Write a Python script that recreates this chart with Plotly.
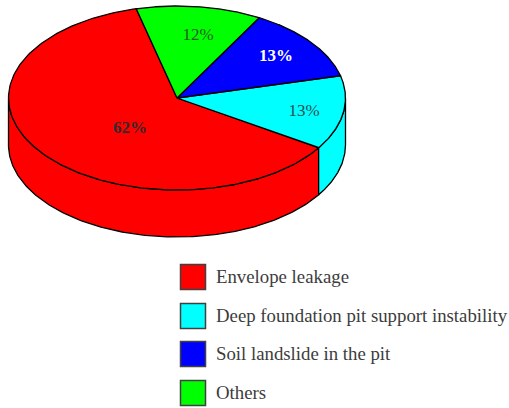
import numpy as np
import plotly.graph_objects as go

# Datos
categories = ["Envelope leakage", "Deep foundation pit support instability", "Soil landslide in the pit", "Others"]
shares = [62, 13, 13, 12]
colors = ["#ff0000", "#00ffff", "#0000ff", "#00ff00"]

# Geometria de la elipse (pixeles de la pagina)
W, H = 509, 408
CX, CY, RX, RY, DEPTH = 177, 98, 168.5, 92, 47
START_ANGLE = 104
INK = "#000000"
TEXT = "#3c3c3c"

# Etiquetas de porcentaje: posicion, color, negrita
label_pos = [(130, 129), (304, 112), (276, 57), (198, 36)]
label_col = ["#332b2b", "#264f4f", "#ffffff", "#265a26"]
label_bold = [True, False, True, False]

# Leyenda
legend_x, legend_text_x = 193, 216
legend_y = [277, 316, 354, 393]


def arc(a0, a1):
    t = np.radians(np.linspace(a0, a1, 200))
    return CX + RX * np.cos(t), CY - RY * np.sin(t)


fig = go.Figure()


def add_shape_trace(x, y, color):
    fig.add_trace(go.Scatter(x=x, y=y, mode="lines", fill="toself", fillcolor=color,
                             line=dict(color=INK, width=1.3), hoverinfo="skip", showlegend=False))


# Angulos de cada porcion a partir de los porcentajes
angles = START_ANGLE + np.cumsum([0] + shares) / sum(shares) * 360

# Pared lateral (solo la mitad frontal, 180-360 grados)
for i, c in enumerate(colors):
    a0, a1 = max(angles[i], 180), min(angles[i + 1], 360)
    if a1 <= a0:
        continue
    x, y = arc(a0, a1)
    add_shape_trace(np.r_[x, x[::-1], x[0]], np.r_[y, y[::-1] + DEPTH, y[0]], c)

# Cara superior
for i, c in enumerate(colors):
    x, y = arc(angles[i], angles[i + 1])
    add_shape_trace(np.r_[CX, x, CX], np.r_[CY, y, CY], c)

# Porcentajes
for s, (px, py), col, bold in zip(shares, label_pos, label_col, label_bold):
    txt = f"<b>{s}%</b>" if bold else f"{s}%"
    fig.add_trace(go.Scatter(x=[px], y=[py], mode="text", text=[txt], textposition="middle center",
                             textfont=dict(family="Liberation Serif", size=17, color=col),
                             hoverinfo="skip", showlegend=False))

# Leyenda dibujada a mano
for name, c, ly in zip(categories, colors, legend_y):
    fig.add_trace(go.Scatter(x=[legend_x], y=[ly], mode="markers", cliponaxis=False,
                             marker=dict(symbol="square", size=25, color=c, line=dict(color="#404040", width=1.5)),
                             hoverinfo="skip", showlegend=False))
    fig.add_trace(go.Scatter(x=[legend_text_x], y=[ly + 1], mode="text", text=[name], textposition="middle right",
                             cliponaxis=False,
                             textfont=dict(family="Liberation Serif", size=18.8, color=TEXT),
                             hoverinfo="skip", showlegend=False))

fig.update_layout(
    width=W, height=H,
    margin=dict(l=0, r=0, t=0, b=0),
    paper_bgcolor="white", plot_bgcolor="white",
    xaxis=dict(range=[0, W], visible=False, fixedrange=True),
    yaxis=dict(range=[H, 0], visible=False, fixedrange=True),
)
# quitar el margen de la pagina para que la figura ocupe toda la ventana
fig.write_html("out.html", config=dict(displayModeBar=False),
               post_script="document.body.style.margin='0';document.documentElement.style.overflow='hidden';")
